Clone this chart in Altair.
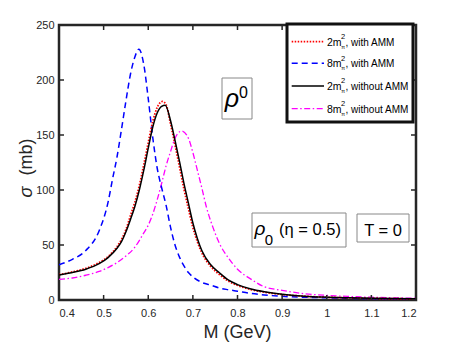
import altair as alt
import pandas as pd

# ---------------- data ----------------
M_red = [0.40, 0.43, 0.46, 0.49, 0.51, 0.53, 0.54, 0.55, 0.56, 0.57, 0.58, 0.59, 0.60, 0.61, 0.62, 0.632, 0.64,
         0.65, 0.66, 0.67, 0.68, 0.69, 0.70, 0.71, 0.72, 0.74, 0.76, 0.78, 0.80, 0.83, 0.86, 0.90, 0.95, 1.00,
         1.05, 1.10, 1.15, 1.20]
S_red = [23, 25.5, 28.8, 34, 39.5, 48.5, 55, 64, 76.5, 89, 104, 123, 143, 162, 175, 180.5, 177.5,
         160, 141, 121, 101, 83, 66, 53, 43, 30.5, 23, 17, 13.3, 9.5, 7.1, 5, 3.4, 2.5,
         1.9, 1.5, 1.2, 1.0]

M_blk = [0.40, 0.43, 0.46, 0.49, 0.51, 0.53, 0.54, 0.55, 0.56, 0.57, 0.58, 0.59, 0.60, 0.61, 0.62, 0.63, 0.638,
         0.65, 0.66, 0.67, 0.68, 0.69, 0.70, 0.71, 0.72, 0.74, 0.76, 0.78, 0.80, 0.83, 0.86, 0.90, 0.95, 1.00,
         1.05, 1.10, 1.15, 1.20]
S_blk = [22.7, 25, 28, 33, 38.5, 47, 53, 62, 73, 85, 100, 118, 138, 157, 170, 176, 177,
         163, 145, 126, 106, 88, 70, 56, 45, 32, 24.5, 18, 14, 10, 7.5, 5.2, 3.5, 2.6,
         2.0, 1.6, 1.3, 1.1]

M_blu = [0.40, 0.43, 0.46, 0.49, 0.51, 0.52, 0.53, 0.54, 0.55, 0.56, 0.57, 0.579, 0.59, 0.60, 0.61, 0.62, 0.63,
         0.64, 0.65, 0.66, 0.67, 0.68, 0.69, 0.70, 0.72, 0.74, 0.76, 0.78, 0.80, 0.83, 0.86, 0.90, 0.95, 1.00,
         1.05, 1.10, 1.15, 1.20]
S_blu = [32, 37, 45, 63, 89, 110, 130, 155, 181, 205, 221, 228, 214, 183, 148, 120, 102,
         86, 66, 50, 39, 31, 25, 21, 16, 13.5, 10.8, 9.3, 8, 6, 4.6, 3.3, 2.5, 2.0,
         1.6, 1.3, 1.1, 0.9]

M_mag = [0.40, 0.43, 0.46, 0.49, 0.51, 0.53, 0.55, 0.57, 0.59, 0.60, 0.61, 0.62, 0.63, 0.64, 0.65, 0.66, 0.675,
         0.69, 0.70, 0.71, 0.72, 0.73, 0.745, 0.76, 0.78, 0.80, 0.83, 0.86, 0.90, 0.95, 1.00, 1.05, 1.10, 1.15, 1.20]
S_mag = [18.8, 20, 22.5, 26, 29.5, 34, 40, 48, 61, 68, 78, 91, 106, 122, 135, 147, 153.6,
         147, 134, 118, 102, 85, 66, 51, 38, 28, 19, 12, 8.8, 5.7, 4.2, 3.2, 2.5, 2.0, 1.6]

x_ticks = [0.4, 0.5, 0.6, 0.7, 0.8, 0.9, 1.0, 1.1, 1.2]
y_ticks = [0, 50, 100, 150, 200, 250]

legend_rows = ["2m", "8m", "2m", "8m"]
legend_tails = [", with AMM", ", with AMM", ", without AMM", ", without AMM"]

# ---------------- styling ----------------
W, H = 357, 275
FONT = "Liberation Sans"
AX = "#262626"

xs = alt.Scale(domain=[0.4, 1.2], nice=False, zero=False)
ys = alt.Scale(domain=[0, 250], nice=False)
X_AXIS = alt.Axis(values=x_ticks, format="~g", ticks=False, domain=False, grid=False, title=None,
                  labelFont=FONT, labelFontSize=11, labelColor=AX, labelPadding=7)
Y_AXIS = alt.Axis(values=y_ticks, ticks=False, domain=False, grid=False, title=None,
                  labelFont=FONT, labelFontSize=11, labelColor=AX, labelPadding=5)

ONE = pd.DataFrame({"k": [0]})


def curve(M, S, color, dash, width):
    df = pd.DataFrame({"M": M, "sigma": S})
    kw = dict(color=color, strokeWidth=width, interpolate="monotone", clip=True)
    if dash:
        kw["strokeDash"] = dash
    return alt.Chart(df).mark_line(**kw).encode(
        x=alt.X("M:Q", scale=xs, axis=X_AXIS),
        y=alt.Y("sigma:Q", scale=ys, axis=Y_AXIS),
    )


def txt(s, x, y, size, italic=False, align="left", baseline="alphabetic", angle=0, color="black"):
    return alt.Chart(ONE).mark_text(
        text=s, fontSize=size, font=FONT, fontStyle="italic" if italic else "normal",
        align=align, baseline=baseline, angle=angle, color=color
    ).encode(x=alt.value(x), y=alt.value(y))


def box(x1, x2, y1, y2, stroke="#888888", sw=1):
    return alt.Chart(ONE).mark_rect(fill="white", stroke=stroke, strokeWidth=sw).encode(
        x=alt.value(x1), x2=alt.value(x2), y=alt.value(y1), y2=alt.value(y2))


DASH_RED = [1.5, 1.5]
DASH_BLU = [6, 4]
DASH_MAG = [6, 2.5, 1.5, 2.5]

layers = [
    curve(M_mag, S_mag, "#ff00ff", DASH_MAG, 1.3),
    curve(M_blu, S_blu, "#0000ff", DASH_BLU, 1.5),
    curve(M_red, S_red, "#ff0000", DASH_RED, 1.8),
    curve(M_blk, S_blk, "#000000", None, 1.5),
]

# inward ticks on all four sides
xt = pd.DataFrame({"v": x_ticks})
yt = pd.DataFrame({"v": y_ticks})
tk = dict(color=AX, strokeWidth=1.5)
layers += [
    alt.Chart(xt).mark_rule(**tk).encode(x=alt.X("v:Q", scale=xs, axis=X_AXIS), y=alt.value(H), y2=alt.value(H - 5)),
    alt.Chart(xt).mark_rule(**tk).encode(x=alt.X("v:Q", scale=xs, axis=X_AXIS), y=alt.value(0), y2=alt.value(5)),
    alt.Chart(yt).mark_rule(**tk).encode(y=alt.Y("v:Q", scale=ys, axis=Y_AXIS), x=alt.value(0), x2=alt.value(5)),
    alt.Chart(yt).mark_rule(**tk).encode(y=alt.Y("v:Q", scale=ys, axis=Y_AXIS), x=alt.value(W), x2=alt.value(W - 5)),
]

# annotation boxes
layers += [
    box(163, 193, 53, 94),
    txt("ρ", 173, 82, 25, italic=True, align="center"),
    txt("0", 184.5, 73, 16, align="center"),
    box(193, 287, 188, 222),
    txt("ρ", 201, 210, 19, italic=True, align="center"),
    txt("0", 210, 219.5, 15, align="center"),
    txt("(η = 0.5)", 220, 210, 16.5),
    box(298, 350, 189, 217),
    txt("T = 0", 324, 211, 16.5, align="center"),
]

# legend
rows_y = [16.7, 38.3, 61, 83.7]
styles = [("#ff0000", DASH_RED, 1.8), ("#0000ff", DASH_BLU, 1.5), ("#000000", None, 1.5), ("#ff00ff", DASH_MAG, 1.3)]
layers.append(box(228, 354, -1, 97, stroke="#111111", sw=3))
for ry, lead, tail, (c, d, w) in zip(rows_y, legend_rows, legend_tails, styles):
    kw = dict(color=c, strokeWidth=w)
    if d:
        kw["strokeDash"] = d
    layers.append(alt.Chart(ONE).mark_rule(**kw).encode(
        x=alt.value(232.7), x2=alt.value(265), y=alt.value(ry)))
    layers.append(txt(lead, 268, ry + 4, 10.5))
    layers.append(txt("2", 282, ry - 2.8, 7.5))
    layers.append(txt("π", 282.3, ry + 6.8, 5.5))
    layers.append(txt(tail, 286.5, ry + 4, 10))

# axis titles
layers += [
    txt("M (GeV)", W / 2, 313, 18, align="center", color=AX),
    txt("σ", -27, 167, 18, italic=True, align="center", angle=270, color=AX),
    txt("(mb)", -27, 132, 18, align="center", angle=270, color=AX),
]

chart = alt.layer(*layers).properties(
    width=W, height=H,
    autosize=alt.AutoSizeParams(type="none"),
    padding={"left": 51, "top": 17, "right": 34, "bottom": 47},
    background="white",
).configure_view(stroke=AX, strokeWidth=2.5)

chart.save("out.html", embed_options={"renderer": "svg", "actions": False})
